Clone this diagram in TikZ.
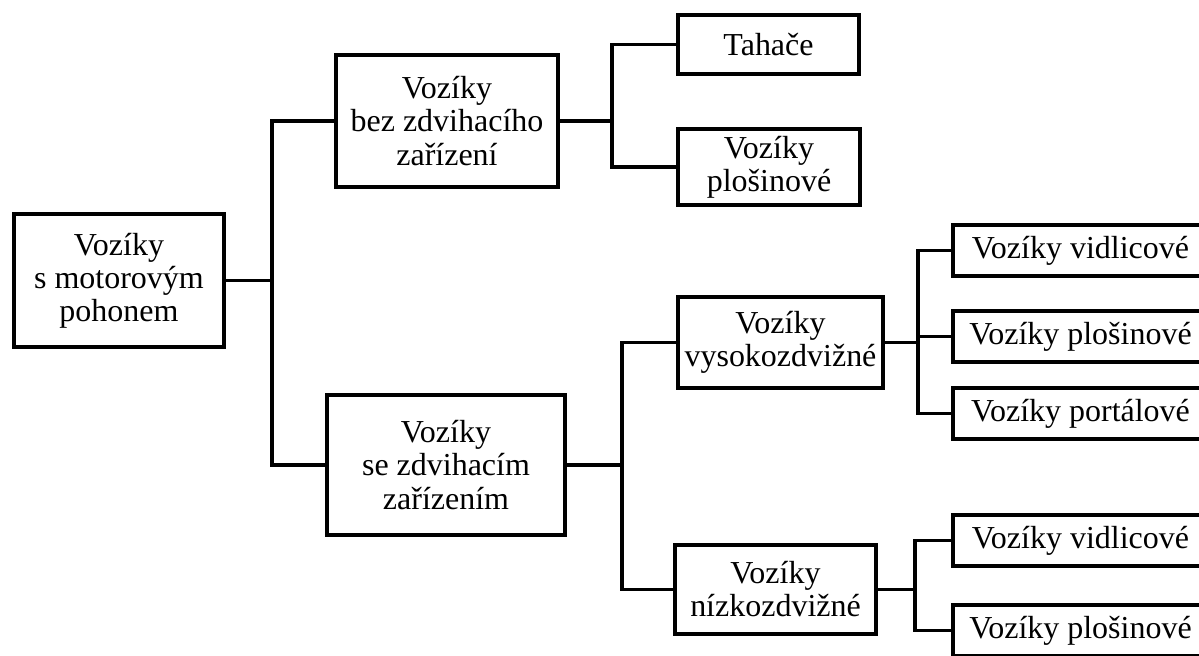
\documentclass[tikz,border=0pt]{standalone}
\usepackage{fontspec}
\setmainfont{Liberation Serif}
\usetikzlibrary{positioning,calc}

\begin{document}
\begin{tikzpicture}[
        block/.style={rectangle, draw, line width=2.2pt, align=center, inner sep=2pt, font=\fontsize{18.2}{18.8}\selectfont},
        leaf/.style={block, minimum width=5.1cm, minimum height=1.02cm},
        conn/.style={line width=2.2pt}
    ]
        \useasboundingbox (0,0) rectangle (23.98,-13.1);
        \clip (0,0) rectangle (23.98,-13.1);
        \fill[white] (0,0) rectangle (23.98,-13.1);

        % Main branches
        \node[block, minimum width=4.2cm, minimum height=2.66cm] (root) at (2.38,-5.61) {Vozíky\\s motorovým\\pohonem};
        \node[block, minimum width=4.44cm, minimum height=2.64cm] (bez) at (8.94,-2.42) {Vozíky\\bez zdvihacího\\zařízení};
        \node[block, minimum width=4.76cm, minimum height=2.8cm] (se) at (8.92,-9.3) {Vozíky\\se zdvihacím\\zařízením};

        % Second level
        \node[block, minimum width=3.62cm, minimum height=1.18cm] (tah) at (15.37,-0.89) {Tahače};
        \node[block, minimum width=3.64cm, minimum height=1.52cm] (plo) at (15.38,-3.34) {Vozíky\\plošinové};
        \node[block, minimum width=4.1cm, minimum height=1.82cm] (vys) at (15.61,-6.85) {Vozíky\\vysokozdvižné};
        \node[block, minimum width=4.02cm, minimum height=1.78cm] (niz) at (15.51,-11.79) {Vozíky\\nízkozdvižné};

        % Leaves
        \node[leaf] (vid1) at (21.61,-5.01) {Vozíky vidlicové};
        \node[leaf] (plo1) at (21.61,-6.73) {Vozíky plošinové};
        \node[leaf] (por1) at (21.61,-8.27) {Vozíky portálové};
        \node[leaf] (vid2) at (21.61,-10.81) {Vozíky vidlicové};
        \node[leaf] (plo2) at (21.61,-12.61) {Vozíky plošinové};

        % Connectors
        \coordinate (j0) at ($(root.east)+(0.92,0)$);
        \coordinate (jb) at ($(bez.east)+(1.04,0)$);
        \coordinate (js) at ($(se.east)+(1.1,0)$);
        \coordinate (jv) at ($(vys.east)+(0.66,0)$);
        \coordinate (jn) at ($(niz.east)+(0.74,0)$);

        \draw[conn] (root.east) -- (j0);
        \draw[conn] (bez.west) -| (j0);
        \draw[conn] (se.west) -| (j0);

        \draw[conn] (bez.east) -- (jb);
        \draw[conn] (tah.west) -| (jb);
        \draw[conn] (plo.west) -| (jb);

        \draw[conn] (se.east) -- (js);
        \draw[conn] (vys.west) -| (js);
        \draw[conn] (niz.west) -| (js);

        \draw[conn] (vys.east) -- (jv);
        \draw[conn] (vid1.west) -| (jv);
        \draw[conn] (plo1.west) -| (jv);
        \draw[conn] (por1.west) -| (jv);

        \draw[conn] (niz.east) -- (jn);
        \draw[conn] (vid2.west) -| (jn);
        \draw[conn] (plo2.west) -| (jn);
    \end{tikzpicture}
\end{document}
